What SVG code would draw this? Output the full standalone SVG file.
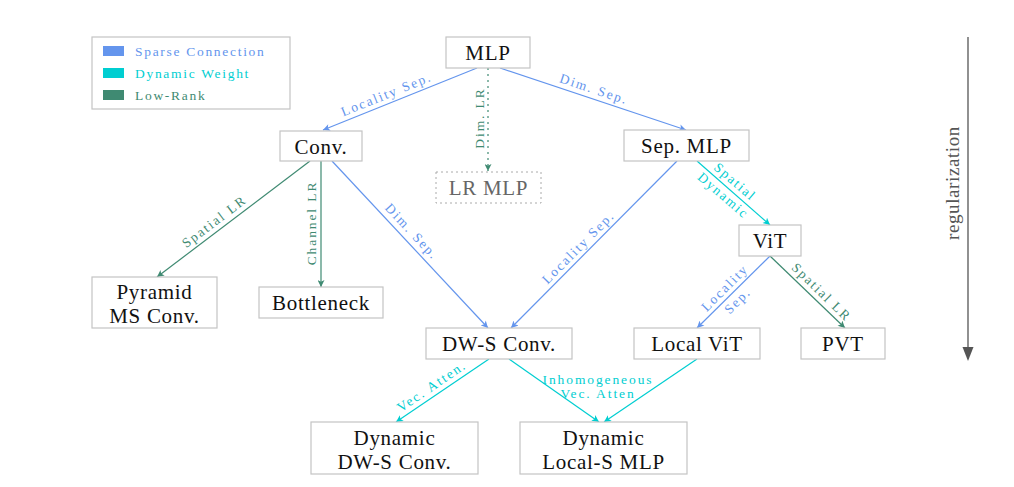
<svg xmlns="http://www.w3.org/2000/svg" width="1014" height="487" viewBox="0 0 1014 487">
<style>
.box{fill:#fff;stroke:#c4c4c4;stroke-width:1.2}
.nt{font-family:"Liberation Serif",serif;font-size:21px;fill:#111;text-anchor:middle;letter-spacing:0.7px}
.el{font-family:"Liberation Serif",serif;font-size:13.5px;text-anchor:middle;letter-spacing:1.9px}
.lg{font-family:"Liberation Serif",serif;font-size:13.5px;letter-spacing:1.7px}
.b{stroke:#6495ED;fill:none;stroke-width:1.2}
.c{stroke:#00CED1;fill:none;stroke-width:1.2}
.g{stroke:#3F8A72;fill:none;stroke-width:1.2}
.tb{fill:#6495ED}.tc{fill:#00CED1}.tg{fill:#3F8A72}
</style>
<defs>
<marker id="ab" viewBox="0 0 10 10" refX="10" refY="5" markerWidth="8" markerHeight="7" orient="auto" markerUnits="userSpaceOnUse"><path d="M0,0 L10,5 L0,10 L2.5,5 z" fill="#6495ED"/></marker>
<marker id="ac" viewBox="0 0 10 10" refX="10" refY="5" markerWidth="8" markerHeight="7" orient="auto" markerUnits="userSpaceOnUse"><path d="M0,0 L10,5 L0,10 L2.5,5 z" fill="#00CED1"/></marker>
<marker id="ag" viewBox="0 0 10 10" refX="10" refY="5" markerWidth="8" markerHeight="7" orient="auto" markerUnits="userSpaceOnUse"><path d="M0,0 L10,5 L0,10 L2.5,5 z" fill="#3F8A72"/></marker>
</defs>
<rect width="1014" height="487" fill="#fff"/>

<g id="legend">
<rect x="92" y="37" width="198" height="72" class="box"/>
<rect x="103" y="46" width="21" height="10" fill="#6495ED"/>
<rect x="103" y="68" width="21" height="10" fill="#00CED1"/>
<rect x="103" y="90" width="21" height="10" fill="#3F8A72"/>
<text x="135" y="55.5" class="lg tb">Sparse Connection</text>
<text x="135" y="77.5" class="lg tc">Dynamic Weight</text>
<text x="135" y="99.5" class="lg tg">Low-Rank</text>
</g>

<g id="connectors">
<line x1="477" y1="68" x2="323" y2="130" class="b" marker-end="url(#ab)"/>
<g transform="translate(390,103) rotate(-21.9)"><text y="-5" class="el tb">Locality Sep.</text></g>
<line x1="500" y1="68" x2="686" y2="130" class="b" marker-end="url(#ab)"/>
<g transform="translate(591,98) rotate(18.4)"><text y="-5" class="el tb">Dim. Sep.</text></g>
<line x1="488" y1="68" x2="488" y2="171" class="g" stroke-dasharray="2,4" marker-end="url(#ag)"/>
<g transform="translate(484,118) rotate(-90)"><text y="0" class="el tg">Dim. LR</text></g>

<line x1="310" y1="161" x2="157" y2="277" class="g" marker-end="url(#ag)"/>
<g transform="translate(220,229) rotate(-37.2)"><text y="-5" class="el tg">Spatial LR</text></g>
<line x1="321" y1="161" x2="321" y2="287" class="g" marker-end="url(#ag)"/>
<g transform="translate(316,223) rotate(-90)"><text y="0" class="el tg">Channel LR</text></g>
<line x1="332" y1="161" x2="488" y2="328" class="b" marker-end="url(#ab)"/>
<g transform="translate(405,238) rotate(47)"><text y="-5" class="el tb">Dim. Sep.</text></g>

<line x1="677" y1="161" x2="511" y2="328" class="b" marker-end="url(#ab)"/>
<g transform="translate(585,254) rotate(-45.2)"><text y="-5" class="el tb">Locality Sep.</text></g>
<line x1="697" y1="161" x2="770" y2="225" class="c" marker-end="url(#ac)"/>
<g transform="translate(729,189) rotate(40.7)"><text y="-5" class="el tc">Spatial</text><text y="13" class="el tc">Dynamic</text></g>

<line x1="770" y1="256" x2="697" y2="328" class="b" marker-end="url(#ab)"/>
<g transform="translate(731.5,294.5) rotate(-45)"><text y="-5" class="el tb">Locality</text><text y="13" class="el tb">Sep.</text></g>
<line x1="770" y1="256" x2="845" y2="328" class="g" marker-end="url(#ag)"/>
<g transform="translate(815,299) rotate(44.2)"><text y="-5" class="el tg">Spatial LR</text></g>

<line x1="489" y1="359" x2="396" y2="422" class="c" marker-end="url(#ac)"/>
<g transform="translate(437,394) rotate(-34.3)"><text y="-5" class="el tc">Vec. Atten.</text></g>
<line x1="509" y1="359" x2="599" y2="422" class="c" marker-end="url(#ac)"/>
<text x="598" y="384" class="el tc">Inhomogeneous</text>
<text x="598" y="398" class="el tc">Vec. Atten</text>
<line x1="697" y1="359" x2="604" y2="422" class="c" marker-end="url(#ac)"/>
</g>

<g id="n-mlp"><rect x="446" y="37" width="84" height="31" class="box"/><text x="488" y="59.5" class="nt">MLP</text></g>
<g id="n-conv"><rect x="280" y="131" width="82" height="30" class="box"/><text x="321" y="153.5" class="nt">Conv.</text></g>
<g id="n-lrmlp"><rect x="436" y="172" width="105" height="31" fill="#fff" stroke="#aaa" stroke-width="1" stroke-dasharray="2,3"/><text x="488.5" y="194.5" class="nt" style="fill:#666">LR MLP</text></g>
<g id="n-sepmlp"><rect x="624" y="130" width="125" height="31" class="box"/><text x="686.5" y="152.5" class="nt">Sep. MLP</text></g>
<g id="n-vit"><rect x="739" y="225" width="62" height="31" class="box"/><text x="770" y="247.5" class="nt">ViT</text></g>
<g id="n-pyramid"><rect x="92" y="277" width="125" height="51" class="box"/><text x="154.5" y="298.5" class="nt">Pyramid</text><text x="154.5" y="323" class="nt">MS Conv.</text></g>
<g id="n-bottleneck"><rect x="259" y="287" width="124" height="31" class="box"/><text x="321" y="309.5" class="nt">Bottleneck</text></g>
<g id="n-dws"><rect x="426" y="328" width="146" height="31" class="box"/><text x="499" y="350.5" class="nt">DW-S Conv.</text></g>
<g id="n-localvit"><rect x="634" y="328" width="126" height="31" class="box"/><text x="697" y="350.5" class="nt">Local ViT</text></g>
<g id="n-pvt"><rect x="801" y="328" width="84" height="31" class="box"/><text x="843" y="350.5" class="nt">PVT</text></g>
<g id="n-dyndws"><rect x="311" y="422" width="167" height="52" class="box"/><text x="394.5" y="444.5" class="nt">Dynamic</text><text x="394.5" y="469" class="nt">DW-S Conv.</text></g>
<g id="n-dynlocal"><rect x="520" y="422" width="167" height="52" class="box"/><text x="603.5" y="444.5" class="nt">Dynamic</text><text x="603.5" y="469" class="nt">Local-S MLP</text></g>

<g id="regularization">
<line x1="968" y1="37" x2="968" y2="349" stroke="#555" stroke-width="1.3"/>
<path d="M962.5,347 L973.5,347 L968,361 z" fill="#555"/>
<g transform="translate(959,183) rotate(-90)"><text x="0" y="0" font-family="Liberation Serif, serif" font-size="19" fill="#555" text-anchor="middle" letter-spacing="0.6">regularization</text></g>
</g>
</svg>
